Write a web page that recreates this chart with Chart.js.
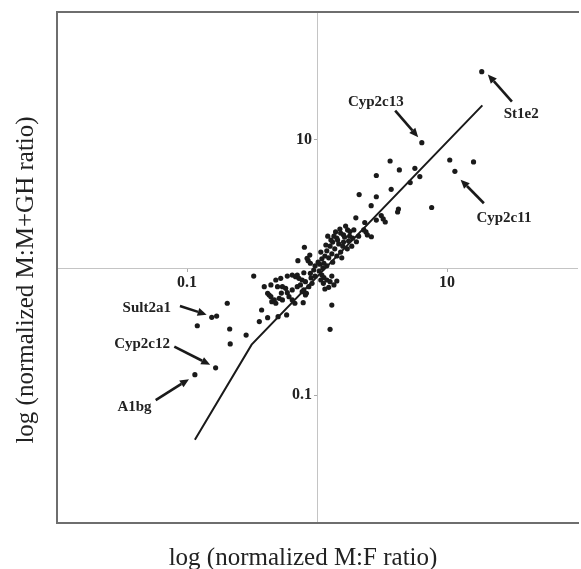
<!DOCTYPE html>
<html>
<head>
<meta charset="utf-8">
<script src="https://cdn.jsdelivr.net/npm/chart.js@4.4.1/dist/chart.umd.min.js"></script>
<style>
  html, body { margin: 0; padding: 0; background: #fff; }
  #wrap { width: 581px; height: 569px; }
</style>
</head>
<body>
<div id="wrap"><canvas id="graph" width="581" height="569"></canvas></div>
<script>
// Tick labels on the two crossing axes
const xTickValues = [0.1, 10];
const xTickLabels = ['0.1', '10'];
const yTickValues = [0.1, 10];
const yTickLabels = ['0.1', '10'];

// Normalized M:F ratio (x) and M:M+GH ratio (y)
const mfRatio = [
  18.5, 6.40, 10.5, 16.0, 11.5, 3.65, 4.30, 5.66, 2.86, 6.18,
  5.21, 3.72, 2.11, 2.86, 2.61, 4.23, 4.17, 7.62, 1.99, 2.86,
  3.12, 3.23, 3.35, 2.33, 2.29, 2.38, 2.44, 2.62, 1.72, 1.79,
  1.92, 1.60, 1.42, 1.52, 1.63, 1.75, 1.88, 2.01, 2.09, 1.32,
  1.47, 1.58, 1.71, 1.37, 1.26, 1.19, 1.30, 1.42, 1.52, 1.15,
  1.09, 1.23, 1.32, 1.13, 1.05, 1.19, 1.55, 1.85, 1.11, 1.28,
  1.17, 1.39, 1.02, 1.07, 1.21, 1.35, 1.44, 1.60, 1.78, 1.50,
  1.66,
  1.09, 1.13, 1.19, 1.26, 1.35, 1.12, 1.23, 1.04, 1.30, 1.15,
  1.42, 1.30, 1.26, 1.07,
  0.800, 0.713, 0.855, 0.889, 0.880, 0.839, 0.889, 0.944, 0.966, 0.792,
  0.705, 0.769, 0.746, 0.792, 0.815, 0.591, 0.645, 0.705, 0.815, 0.865,
  0.916, 0.769, 0.829, 0.676, 0.783, 0.645, 0.591, 0.645, 0.684, 0.726,
  0.900, 0.966,
  0.326, 0.393, 0.442, 0.417, 0.429, 0.482, 0.526, 0.497, 0.542, 0.574,
  0.442, 0.469, 0.512, 0.542, 0.609, 0.449, 0.482, 0.375, 0.417, 0.502,
  0.584, 0.360, 0.285, 0.532,
  0.204, 0.155, 0.169, 0.120, 0.213, 0.215, 0.166, 0.115
];
const mmghRatio = [
  34.1, 9.48, 6.94, 6.70, 5.66, 6.82, 5.80, 5.98, 5.25, 5.15,
  4.62, 4.09, 3.72, 3.58, 3.05, 2.87, 2.72, 2.95, 2.45, 2.35,
  2.55, 2.40, 2.27, 2.25, 1.97, 1.90, 1.80, 1.74, 1.97, 1.91,
  1.97, 1.80, 1.70, 1.86, 1.73, 1.61, 1.70, 1.59, 1.76, 1.58,
  1.53, 1.47, 1.40, 1.40, 1.47, 1.35, 1.28, 1.23, 1.32, 1.23,
  1.17, 1.19, 1.10, 1.08, 1.06, 1.03, 1.19, 1.47, 0.99, 1.64,
  1.50, 1.90, 1.10, 1.32, 1.76, 1.76, 1.64, 1.58, 1.76, 2.00,
  2.11,
  0.873, 0.835, 0.798, 0.774, 0.730, 0.752, 0.700, 0.939, 0.857, 0.679,
  0.784, 0.508, 0.328, 0.798,
  1.44, 1.13, 1.13, 1.08, 1.25, 1.18, 0.901, 0.956, 1.03, 0.910,
  0.873, 0.798, 0.730, 0.667, 0.609, 0.635, 0.667, 0.708, 0.774, 0.708,
  0.752, 0.647, 0.628, 0.525, 0.530, 0.557, 0.857, 0.873, 0.847, 0.823,
  0.828, 0.857,
  0.857, 0.708, 0.730, 0.628, 0.609, 0.798, 0.823, 0.708, 0.708, 0.687,
  0.591, 0.557, 0.574, 0.557, 0.591, 0.540, 0.525, 0.465, 0.405, 0.412,
  0.425, 0.377, 0.296, 0.631,
  0.525, 0.407, 0.417, 0.350, 0.330, 0.252, 0.164, 0.145
];

// Fitted line (two segments)
const fitX = [0.115, 0.314, 18.7];
const fitY = [0.0448, 0.249, 18.6];

// Labelled genes and the points they point at
const geneNames = ['Cyp2c13', 'St1e2', 'Cyp2c11', 'Sult2a1', 'Cyp2c12', 'A1bg'];
const geneX = [6.40, 18.5, 11.5, 0.155, 0.166, 0.115];
const geneY = [9.48, 34.1, 5.66, 0.407, 0.164, 0.145];

// arrow head, arrow tail, label centre as pixel offsets from the point (style only)
const arrowStyle = [
  { head: [-3.6, -5.5], tail: [-26.6, -32], label: [-46, -41] },
  { head: [6.1, 2.7], tail: [30.2, 29.9], label: [39.5, 42] },
  { head: [5.7, 8.3], tail: [29, 31.9], label: [49, 46.7] },
  { head: [-5.1, -2.7], tail: [-31.8, -11.4], label: [-65, -9.6] },
  { head: [-5.4, -3], tail: [-41.3, -21.2], label: [-73.5, -23.7] },
  { head: [-5.9, 4.5], tail: [-39.2, 25.5], label: [-60.4, 32.4] }
];

const serif = '"Liberation Serif", "Times New Roman", serif';
const ink = '#1a1a1a';

// Frame round the plot (left, top, bottom; right side is cut off in the original)
const framePlugin = {
  id: 'frame',
  afterDraw(chart) {
    const { ctx, chartArea: a } = chart;
    ctx.save();
    ctx.strokeStyle = '#6e6e6e';
    ctx.lineWidth = 2;
    ctx.beginPath();
    ctx.moveTo(a.right + 2, a.top);
    ctx.lineTo(a.left, a.top);
    ctx.lineTo(a.left, a.bottom);
    ctx.lineTo(a.right + 2, a.bottom);
    ctx.stroke();

    // axis titles
    ctx.fillStyle = '#222';
    ctx.font = '25px ' + serif;
    ctx.textAlign = 'center';
    ctx.textBaseline = 'alphabetic';
    ctx.fillText('log (normalized M:F ratio)', 303, 565);
    ctx.translate(33, 280);
    ctx.rotate(-Math.PI / 2);
    ctx.fillText('log (normalized M:M+GH ratio)', 0, 0);
    ctx.restore();
  }
};

// Arrows and gene labels
const arrowPlugin = {
  id: 'geneArrows',
  afterDatasetsDraw(chart) {
    const { ctx, scales } = chart;
    ctx.save();
    geneNames.forEach((name, i) => {
      const px = scales.x.getPixelForValue(geneX[i]);
      const py = scales.y.getPixelForValue(geneY[i]);
      const s = arrowStyle[i];
      const hx = px + s.head[0], hy = py + s.head[1];
      const tx = px + s.tail[0], ty = py + s.tail[1];
      const ang = Math.atan2(hy - ty, hx - tx);
      const len = 9, half = 4;
      const bx = hx - len * Math.cos(ang), by = hy - len * Math.sin(ang);

      ctx.strokeStyle = ink;
      ctx.fillStyle = ink;
      ctx.lineWidth = 2.6;
      ctx.beginPath();
      ctx.moveTo(tx, ty);
      ctx.lineTo(bx, by);
      ctx.stroke();

      ctx.beginPath();
      ctx.moveTo(hx, hy);
      ctx.lineTo(bx - half * Math.sin(ang), by + half * Math.cos(ang));
      ctx.lineTo(bx + half * Math.sin(ang), by - half * Math.cos(ang));
      ctx.closePath();
      ctx.fill();

      ctx.font = 'bold 15px ' + serif;
      ctx.fillStyle = '#222';
      ctx.textAlign = 'center';
      ctx.textBaseline = 'middle';
      ctx.fillText(name, px + s.label[0], py + s.label[1]);
    });
    ctx.restore();
  }
};

const ctx = document.getElementById('graph').getContext('2d');
new Chart(ctx, {
  type: 'scatter',
  data: {
    datasets: [
      {
        label: 'genes',
        data: mfRatio.map((v, i) => ({ x: v, y: mmghRatio[i] })),
        pointRadius: 2.6,
        pointBackgroundColor: ink,
        pointBorderWidth: 0,
        order: 2
      },
      {
        label: 'fit',
        data: fitX.map((v, i) => ({ x: v, y: fitY[i] })),
        showLine: true,
        borderColor: ink,
        borderWidth: 2,
        pointRadius: 0,
        order: 1
      }
    ]
  },
  options: {
    responsive: false,
    animation: false,
    devicePixelRatio: 1,
    layout: { padding: { left: 57, top: 12, right: 0, bottom: 46 } },
    plugins: {
      legend: { display: false },
      tooltip: { enabled: false }
    },
    scales: {
      x: {
        type: 'logarithmic',
        position: 'center',
        min: 0.01,
        max: 100,
        afterBuildTicks: axis => { axis.ticks = xTickValues.map(v => ({ value: v })); },
        afterFit: axis => { axis.height = 0; },
        ticks: {
          autoSkip: false,
          maxRotation: 0,
          padding: 3,
          color: '#222',
          font: { family: serif, size: 16, weight: 'bold' },
          callback: v => xTickLabels[xTickValues.indexOf(v)]
        },
        grid: { drawOnChartArea: false, drawTicks: true, tickLength: 3, color: '#aaa' },
        border: { display: true, color: '#c4c4c4', width: 1 }
      },
      y: {
        type: 'logarithmic',
        position: 'center',
        min: 0.01,
        max: 100,
        afterBuildTicks: axis => { axis.ticks = yTickValues.map(v => ({ value: v })); },
        afterFit: axis => { axis.width = 0; },
        ticks: {
          autoSkip: false,
          padding: 2,
          color: '#222',
          font: { family: serif, size: 16, weight: 'bold' },
          callback: v => yTickLabels[yTickValues.indexOf(v)]
        },
        grid: { drawOnChartArea: false, drawTicks: true, tickLength: 3, color: '#aaa' },
        border: { display: true, color: '#c4c4c4', width: 1 }
      }
    }
  },
  plugins: [arrowPlugin, framePlugin]
});
</script>
</body>
</html>
